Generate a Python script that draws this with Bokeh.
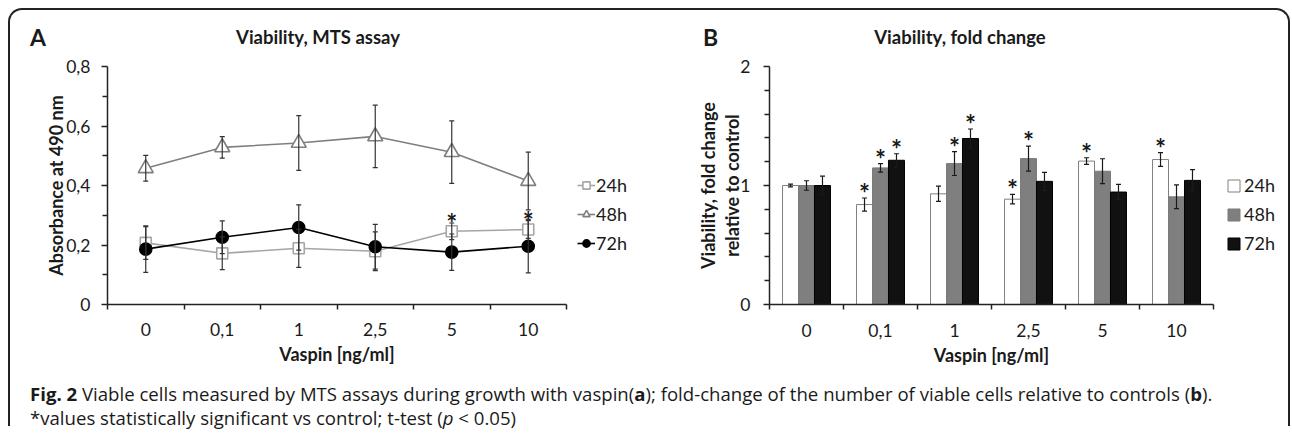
from bokeh.plotting import figure
from bokeh.models import (ColumnDataSource, FixedTicker, Whisker, TeeHead, Legend,
                          LegendItem, Div, Range1d)
from bokeh.layouts import column, row
from bokeh.core.properties import value
from bokeh.embed import file_html
from bokeh.resources import INLINE

# ---------------- data ----------------
categories = ["0", "0,1", "1", "2,5", "5", "10"]
series = ["24h", "48h", "72h"]

# Panel A: absorbance (MTS assay)
mts_24h = [0.207, 0.172, 0.189, 0.179, 0.246, 0.252]
mts_24h_err = [0.055, 0.055, 0.064, 0.065, 0.028, 0.030]
mts_48h = [0.458, 0.528, 0.543, 0.565, 0.512, 0.415]
mts_48h_err = [0.043, 0.036, 0.092, 0.105, 0.105, 0.097]
mts_72h = [0.186, 0.226, 0.259, 0.194, 0.176, 0.196]
mts_72h_err = [0.078, 0.055, 0.076, 0.075, 0.061, 0.090]
mts_sig_24h = [False, False, False, False, True, True]

# Panel B: fold change relative to control
fold_24h = [1.000, 0.840, 0.930, 0.885, 1.205, 1.218]
fold_24h_err = [0.012, 0.055, 0.064, 0.040, 0.028, 0.058]
fold_48h = [1.000, 1.148, 1.184, 1.226, 1.120, 0.905]
fold_48h_err = [0.040, 0.035, 0.100, 0.105, 0.105, 0.100]
fold_72h = [1.000, 1.212, 1.395, 1.035, 0.945, 1.043]
fold_72h_err = [0.078, 0.055, 0.080, 0.076, 0.064, 0.090]
fold_sig_24h = [False, True, False, True, True, True]
fold_sig_48h = [False, True, True, True, False, False]
fold_sig_72h = [False, True, True, False, False, False]

yA_ticks = [0.0, 0.2, 0.4, 0.6, 0.8]
yA_labels = ["0", "0,2", "0,4", "0,6", "0,8"]
yA_minor = [0.1, 0.3, 0.5, 0.7]
yB_ticks = [0.0, 1.0, 2.0]
yB_labels = ["0", "1", "2"]
yB_minor = [0.2, 0.4, 0.6, 0.8, 1.2, 1.4, 1.6, 1.8]

title_A = "Viability, MTS assay"
title_B = "Viability, fold change"
ylabel_A = "Absorbance at 490 nm"
ylabel_B = "Viability, fold change\nrelative to control"
xlabel = "Vaspin [ng/ml]"

# ---------------- styles ----------------
FONT = "Lato"
TXT = "#1a1a1a"
AX = "#222222"
n = len(categories)
FIG_H = 314
NAN = float("nan")   # legend-only key glyphs have no visible point


def style_common(p, yticks, ylabels, yminor, ylabel, xstandoff, ystandoff, ylab_standoff,
                 ylab_lh):
    p.grid.visible = False
    p.outline_line_color = None
    p.background_fill_color = "white"
    p.border_fill_color = "white"
    xa = p.xaxis[0]
    xa.ticker = FixedTicker(ticks=[i + 0.5 for i in range(n)], minor_ticks=list(range(n + 1)))
    xa.major_label_overrides = {i + 0.5: c for i, c in enumerate(categories)}
    xa.major_tick_line_color = None
    xa.major_tick_out = 0
    xa.major_tick_in = 0
    xa.minor_tick_out = 5
    xa.minor_tick_in = 0
    xa.minor_tick_line_color = AX
    xa.minor_tick_line_width = 1.5
    xa.axis_line_color = AX
    xa.axis_line_width = 1.5
    xa.major_label_standoff = xstandoff
    xa.major_label_text_font = FONT
    xa.major_label_text_font_size = "17.5px"
    xa.major_label_text_color = TXT
    xa.axis_label = xlabel
    xa.axis_label_text_font = FONT
    xa.axis_label_text_font_size = "18px"
    xa.axis_label_text_font_style = "bold"
    xa.axis_label_text_color = TXT
    xa.axis_label_standoff = 4

    ya = p.yaxis[0]
    ya.ticker = FixedTicker(ticks=yticks, minor_ticks=yminor)
    ya.major_label_overrides = dict(zip(yticks, ylabels))
    ya.major_tick_out = 6
    ya.major_tick_in = 0
    ya.minor_tick_out = 5
    ya.minor_tick_in = 0
    ya.major_tick_line_color = AX
    ya.minor_tick_line_color = AX
    ya.major_tick_line_width = 1.5
    ya.minor_tick_line_width = 1.5
    ya.axis_line_color = AX
    ya.axis_line_width = 1.5
    ya.major_label_standoff = ystandoff
    ya.major_label_text_font = FONT
    ya.major_label_text_font_size = "17.5px"
    ya.major_label_text_color = TXT
    ya.axis_label = ylabel
    ya.axis_label_text_font = FONT
    ya.axis_label_text_font_size = "18px"
    ya.axis_label_text_font_style = "bold"
    ya.axis_label_text_color = TXT
    ya.axis_label_standoff = ylab_standoff
    ya.axis_label_text_line_height = ylab_lh


def add_whisker(p, xs, vals, errs, color="#333333"):
    src = ColumnDataSource(dict(x=xs, upper=[v + e for v, e in zip(vals, errs)],
                                lower=[v - e for v, e in zip(vals, errs)]))
    w = Whisker(source=src, base="x", upper="upper", lower="lower",
                line_color=color, line_width=1.2, level="overlay",
                upper_head=TeeHead(size=5, line_color=color, line_width=1.2),
                lower_head=TeeHead(size=5, line_color=color, line_width=1.2))
    p.add_layout(w)


def add_stars(p, xs, vals, errs, sig, y_off, size):
    sx = [x for x, s in zip(xs, sig) if s]
    sy = [v + e for v, e, s in zip(vals, errs, sig) if s]
    p.text(x=sx, y=sy, text=["*"] * len(sx), text_align="center", text_baseline="alphabetic",
           y_offset=y_off, text_font=value(FONT), text_font_style="bold",
           text_font_size=size, text_color=TXT)


def legend_fig(width):
    f = figure(width=width, height=FIG_H, x_range=Range1d(0, 1), y_range=Range1d(0, 1),
               output_backend="svg", toolbar_location=None, min_border=0,
               x_axis_location=None, y_axis_location=None)
    f.grid.visible = False
    f.outline_line_color = None
    f.border_fill_color = "white"
    return f


xc = [i + 0.5 for i in range(n)]

# ---------------- Panel A ----------------
pA = figure(width=560, height=FIG_H, x_range=Range1d(0, n), y_range=Range1d(0, 0.8),
            output_backend="svg", toolbar_location=None,
            min_border_left=97, min_border_right=4, min_border_top=10, min_border_bottom=65)
style_common(pA, yA_ticks, yA_labels, yA_minor, ylabel_A, 13, 11, -4, 1.2)

line_styles = [("#a6a6a6", "square", 11, "white"),
               ("#7f7f7f", "triangle", 15, "white"),
               ("#000000", "circle", 12, "#000000")]
for vals, (col, marker, size, fill) in zip([mts_24h, mts_48h, mts_72h], line_styles):
    pA.line(xc, vals, line_color=col, line_width=1.6)
    pA.scatter(xc, vals, marker=marker, size=size, line_color=col, line_width=1.6,
               fill_color=fill)

add_whisker(pA, xc, mts_24h, mts_24h_err)
add_whisker(pA, xc, mts_48h, mts_48h_err)
add_whisker(pA, xc, mts_72h, mts_72h_err)
add_stars(pA, xc, mts_24h, mts_24h_err, mts_sig_24h, 0, "26px")

# legend A (own small figure, key glyphs styled like the series)
gA = legend_fig(70)
itemsA = []
for s, (col, marker, size, fill) in zip(series, line_styles):
    r1 = gA.line([NAN, NAN], [NAN, NAN], line_color=col, line_width=1.6)
    r2 = gA.scatter([NAN], [NAN], marker=marker, size=size, line_color=col, line_width=1.6,
                    fill_color=fill)
    itemsA.append(LegendItem(label=s, renderers=[r1, r2]))
gA.add_layout(Legend(items=itemsA, location=(7, 50), orientation="vertical", padding=0,
                     margin=0, border_line_color=None, background_fill_alpha=0,
                     glyph_width=18, glyph_height=22, label_height=22, spacing=7,
                     label_standoff=1, label_text_font=FONT, label_text_font_size="18px",
                     label_text_color=TXT))

# ---------------- Panel B ----------------
pB = figure(width=577, height=FIG_H, x_range=Range1d(0, n), y_range=Range1d(0, 2),
            output_backend="svg", toolbar_location=None,
            min_border_left=129, min_border_right=4, min_border_top=10, min_border_bottom=66)
style_common(pB, yB_ticks, yB_labels, yB_minor, ylabel_B, 14, 13, -6, 1.1)

bw = 0.216
offsets = [-bw, 0.0, bw]
bar_styles = [("white", "#808080"), ("#7f7f7f", "#7a7a7a"), ("#111111", "#000000")]
fold_vals = [fold_24h, fold_48h, fold_72h]
fold_errs = [fold_24h_err, fold_48h_err, fold_72h_err]
fold_sigs = [fold_sig_24h, fold_sig_48h, fold_sig_72h]
for vals, off, (fc, lc) in zip(fold_vals, offsets, bar_styles):
    xs = [x + off for x in xc]
    pB.vbar(x=xs, top=vals, bottom=0, width=bw, fill_color=fc, line_color=lc, line_width=1)
for vals, errs, sig, off in zip(fold_vals, fold_errs, fold_sigs, offsets):
    xs = [x + off for x in xc]
    add_whisker(pB, xs, vals, errs, color="#1a1a1a")
    add_stars(pB, xs, vals, errs, sig, -5, "26px")

gB = legend_fig(71)
itemsB = []
for s, (fc, lc) in zip(series, bar_styles):
    r = gB.vbar(x=[NAN], top=[NAN], width=0.5, fill_color=fc, line_color=lc, line_width=1)
    itemsB.append(LegendItem(label=s, renderers=[r]))
gB.add_layout(Legend(items=itemsB, location=(9, 50), orientation="vertical", padding=0,
                     margin=0, border_line_color=None, background_fill_alpha=0,
                     glyph_width=15, glyph_height=15, label_height=22, spacing=7,
                     label_standoff=3, label_text_font=FONT, label_text_font_size="18px",
                     label_text_color=TXT))

# ---------------- header (panel letters and titles) ----------------
span = ("position:absolute;top:27px;white-space:nowrap;font-family:Lato;font-weight:bold;"
        "color:#1a1a1a;line-height:1;")
header_html = (
    '<div style="position:relative;width:1278px;height:46px;">'
    f'<span style="{span}left:20px;transform:translateY(-50%);font-size:23px;">A</span>'
    f'<span style="{span}left:308px;transform:translate(-50%,-50%);font-size:18.5px;">{title_A}</span>'
    f'<span style="{span}left:693px;transform:translateY(-50%);font-size:23px;">B</span>'
    f'<span style="{span}left:950px;transform:translate(-50%,-50%);font-size:18.5px;">{title_B}</span>'
    '</div>')
header = Div(text=header_html, width=1278, height=46, margin=0)

# ---------------- caption ----------------
cap_html = ('<div style="font-family:\'Open Sans\';font-size:18.6px;line-height:24px;'
            'color:#1a1a1a;padding:12px 0 0 20px;white-space:nowrap;">'
            '<b>Fig. 2</b> Viable cells measured by MTS assays during growth with vaspin(<b>a</b>); '
            'fold-change of the number of viable cells relative to controls (<b>b</b>).<br>'
            '*values statistically significant vs control; t-test (<i>p</i> &lt; 0.05)</div>')
caption = Div(text=cap_html, width=1278, height=56, margin=0)

layout = column(header, row(pA, gA, pB, gB), caption, margin=(8, 0, 0, 8),
                styles={"border": "2px solid #222", "border-bottom": "none",
                        "border-radius": "14px 14px 0 0", "background": "white"})

open("out.html", "w").write(file_html(layout, INLINE))
